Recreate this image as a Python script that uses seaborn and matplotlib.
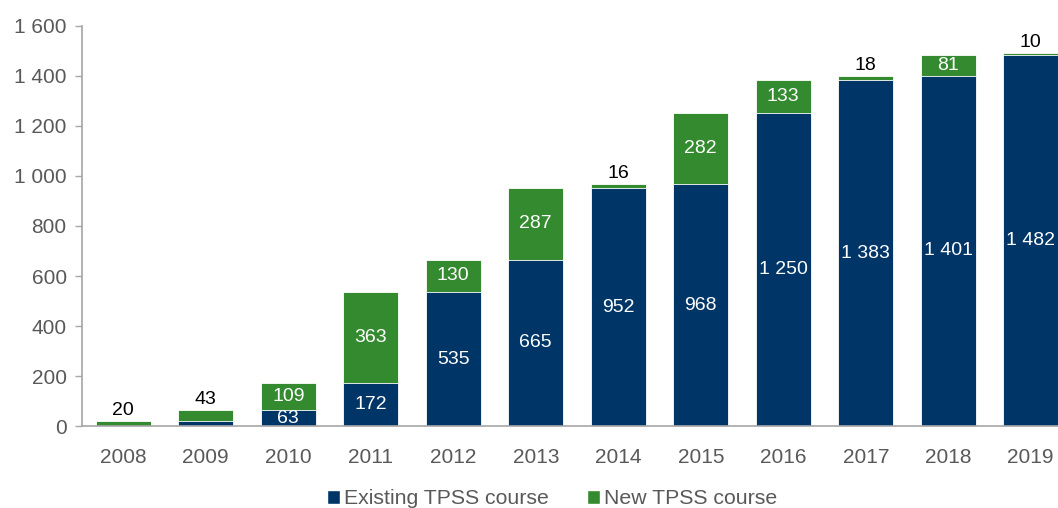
import matplotlib
matplotlib.use("Agg")
import matplotlib.pyplot as plt
import seaborn as sns
import pandas as pd
from matplotlib.patches import Patch
from matplotlib.ticker import FuncFormatter

years = ["2008", "2009", "2010", "2011", "2012", "2013", "2014", "2015", "2016", "2017", "2018", "2019"]
existing = [0, 20, 63, 172, 535, 665, 952, 968, 1250, 1383, 1401, 1482]
new = [20, 43, 109, 363, 130, 287, 16, 282, 133, 18, 81, 10]
show_existing_label = [False, False, True, True, True, True, True, True, True, True, True, True]

navy = "#003667"
green = "#348A2E"
grey = "#595959"

df = pd.DataFrame({"year": years, "existing": existing, "new": new})
df["total"] = df["existing"] + df["new"]

sns.set_theme(style="white")
plt.rcParams["font.family"] = ["Liberation Sans", "DejaVu Sans"]

fig = plt.figure(figsize=(10.58, 5.08), dpi=100)
ax = fig.add_axes([82 / 1058, 82 / 508, 990 / 1058, 400 / 508])

sns.barplot(data=df, x="year", y="total", color=green, saturation=1, width=0.67,
            edgecolor="white", linewidth=0.6, ax=ax)
sns.barplot(data=df, x="year", y="existing", color=navy, saturation=1, width=0.67,
            edgecolor="white", linewidth=0.6, ax=ax)

n = len(years)
green_bars = ax.patches[:n]
for i, p in enumerate(green_bars):
    xc = p.get_x() + p.get_width() / 2
    e = existing[i]
    t = e + new[i]
    if new[i] < 60:
        ax.text(xc, t + 8, f"{new[i]}", ha="center", va="bottom", fontsize=14, color="black")
    else:
        ax.text(xc, (e + t) / 2, f"{new[i]}", ha="center", va="center", fontsize=14, color="white")
    if show_existing_label[i]:
        lab = f"{e:,}".replace(",", " ")
        ax.text(xc, e / 2, lab, ha="center", va="center", fontsize=14, color="white")

ax.set_xlim(-0.5, n - 0.5)
ax.set_ylim(0, 1600)
ax.set_yticks(range(0, 1601, 200))
ax.yaxis.set_major_formatter(FuncFormatter(lambda v, _: f"{int(v):,}".replace(",", " ")))
ax.set_xlabel("")
ax.set_ylabel("")

for s in ["top", "right"]:
    ax.spines[s].set_visible(False)
for s in ["left", "bottom"]:
    ax.spines[s].set_color("#A6A6A6")
    ax.spines[s].set_linewidth(1.2)

ax.tick_params(axis="y", which="major", left=True, length=5, width=1, color="#A6A6A6",
               labelsize=15, labelcolor=grey, pad=6)
ax.tick_params(axis="x", bottom=False, labelsize=15, labelcolor=grey, pad=10)

handles = [Patch(facecolor=navy, label="Existing TPSS course"),
           Patch(facecolor=green, label="New TPSS course")]
leg = fig.legend(handles=handles, loc="center", bbox_to_anchor=(552 / 1058, 1 - 499 / 508),
                 ncol=2, frameon=False, fontsize=15.3, handlelength=0.6, handleheight=0.6,
                 handletextpad=0.2, columnspacing=1.8)
for t in leg.get_texts():
    t.set_color(grey)

fig.savefig("out.png", dpi=100)
